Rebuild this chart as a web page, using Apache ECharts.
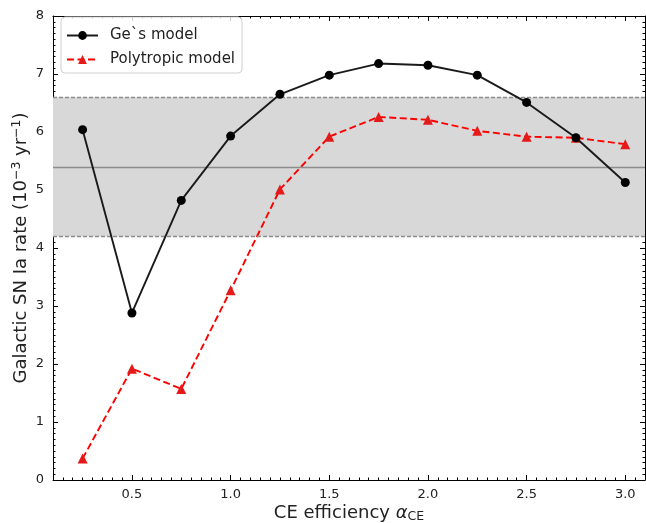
<!DOCTYPE html>
<html>
<head>
<meta charset="utf-8">
<script src="https://cdn.jsdelivr.net/npm/echarts@6/dist/echarts.min.js"></script>
<style>html,body{margin:0;padding:0;background:#fff}#c{width:646px;height:523px}</style>
</head>
<body>
<div id="c"></div>
<script>
const alphaCE = [0.25, 0.5, 0.75, 1.0, 1.25, 1.5, 1.75, 2.0, 2.25, 2.5, 2.75, 3.0];
const geModel = [6.04, 2.88, 4.82, 5.93, 6.65, 6.98, 7.18, 7.15, 6.98, 6.51, 5.90, 5.13];
const polyModel = [0.37, 1.92, 1.57, 3.27, 5.01, 5.92, 6.26, 6.21, 6.02, 5.92, 5.90, 5.79];
const bandLow = 4.2, bandMid = 5.4, bandHigh = 6.6;
const xTickLabels = [0.5, 1.0, 1.5, 2.0, 2.5, 3.0];
const xMin = 0.1, xMax = 3.1, yMin = 0, yMax = 8;

const xMinor = [];
for (let i = 2; i <= 62; i++) { const v = +(i * 0.05).toFixed(2); if (Math.abs(v / 0.5 - Math.round(v / 0.5)) > 1e-6) xMinor.push(v); }

const FONT = 'DejaVu Sans';
const tc = '#222';
function xAx(pos, major, labels) {
  return {
    type: 'value', position: pos, min: xMin, max: xMax,
    axisLine: { show: major, lineStyle: { color: '#000', width: 1 } },
    splitLine: { show: false },
    axisTick: { show: true, inside: true, length: major ? 5 : 2.5, customValues: major ? xTickLabels : xMinor, lineStyle: { color: '#000', width: 1 } },
    axisLabel: { show: labels, customValues: xTickLabels, formatter: v => v.toFixed(1), color: tc, fontFamily: FONT, fontSize: 13, margin: 8 }
  };
}
function yAx(pos, labels) {
  return {
    type: 'value', position: pos, min: yMin, max: yMax, interval: 1,
    axisLine: { show: true, lineStyle: { color: '#000', width: 1 } },
    splitLine: { show: false },
    axisTick: { show: true, inside: true, length: 5, lineStyle: { color: '#000', width: 1 } },
    minorTick: { show: true, splitNumber: 10, length: 2.5, lineStyle: { color: '#000', width: 1 } },
    axisLabel: { show: labels, color: tc, fontFamily: FONT, fontSize: 13, margin: 9 }
  };
}
const xAxes = [xAx('bottom', true, true), xAx('bottom', false, false), xAx('top', true, false), xAx('top', false, false)];
xAxes[0].name = 'CE efficiency {a|α}{s|CE}';
xAxes[0].nameLocation = 'middle';
xAxes[0].nameGap = 23;
xAxes[0].nameMoveOverlap = false;
xAxes[0].nameTextStyle = { fontFamily: FONT, fontSize: 18, color: tc,
  rich: { a: { fontFamily: FONT, fontSize: 18, fontStyle: 'italic', color: tc }, s: { fontFamily: FONT, fontSize: 12.5, color: tc, padding: [7, 0, 0, 0] } } };
const yAxes = [yAx('left', true), yAx('right', false)];
yAxes[0].name = 'Galactic SN Ia rate (10{s|−3} yr{s|−1})';
yAxes[0].nameLocation = 'middle';
yAxes[0].nameGap = 21;
yAxes[0].nameMoveOverlap = false;
yAxes[0].nameTextStyle = { fontFamily: FONT, fontSize: 18, color: tc,
  rich: { s: { fontFamily: FONT, fontSize: 12.5, color: tc, padding: [0, 0, 9, 0] } } };

const chart = echarts.init(document.getElementById('c'), null, { renderer: 'canvas' });
chart.setOption({
  animation: false,
  backgroundColor: '#fff',
  grid: { left: 53, right: 1, top: 16, bottom: 43, containLabel: false, outerBoundsMode: 'none' },
  legend: {
    orient: 'vertical', left: 61, top: 17, itemWidth: 31, itemHeight: 11, itemGap: 9,
    padding: [11, 7, 6, 5], borderColor: '#d0d0d0', borderWidth: 1, borderRadius: 4, backgroundColor: 'rgba(255,255,255,0.8)',
    textStyle: { fontFamily: FONT, fontSize: 15, color: tc, padding: [0, 0, 0, 7] },
    data: ['Ge`s model', 'Polytropic model']
  },
  xAxis: xAxes,
  yAxis: yAxes,
  series: [
    {
      name: 'band', type: 'line', data: [], xAxisIndex: 0, yAxisIndex: 0, silent: true,
      markArea: { silent: true, itemStyle: { color: '#d8d8d8' }, data: [[{ yAxis: bandLow }, { yAxis: bandHigh }]] },
      markLine: {
        silent: true, symbol: 'none', label: { show: false },
        data: [
          { yAxis: bandLow, lineStyle: { type: [4, 2], color: '#8c8c8c', width: 1.3 } },
          { yAxis: bandHigh, lineStyle: { type: [4, 2], color: '#8c8c8c', width: 1.3 } },
          { yAxis: bandMid, lineStyle: { type: 'solid', color: '#8c8c8c', width: 1.3 } }
        ]
      }
    },
    {
      name: 'Ge`s model', type: 'line', xAxisIndex: 0, yAxisIndex: 0,
      data: alphaCE.map((x, i) => [x, geModel[i]]),
      symbol: 'circle', symbolSize: 9,
      lineStyle: { color: '#1a1a1a', width: 1.9 }, itemStyle: { color: '#000' }, z: 5
    },
    {
      name: 'Polytropic model', type: 'line', xAxisIndex: 0, yAxisIndex: 0,
      data: alphaCE.map((x, i) => [x, polyModel[i]]),
      symbol: 'triangle', symbolSize: 10,
      lineStyle: { color: '#ff0000', width: 1.9, type: [7, 3.5] }, itemStyle: { color: '#e41a1a' }, z: 4
    }
  ]
});
</script>
</body>
</html>
